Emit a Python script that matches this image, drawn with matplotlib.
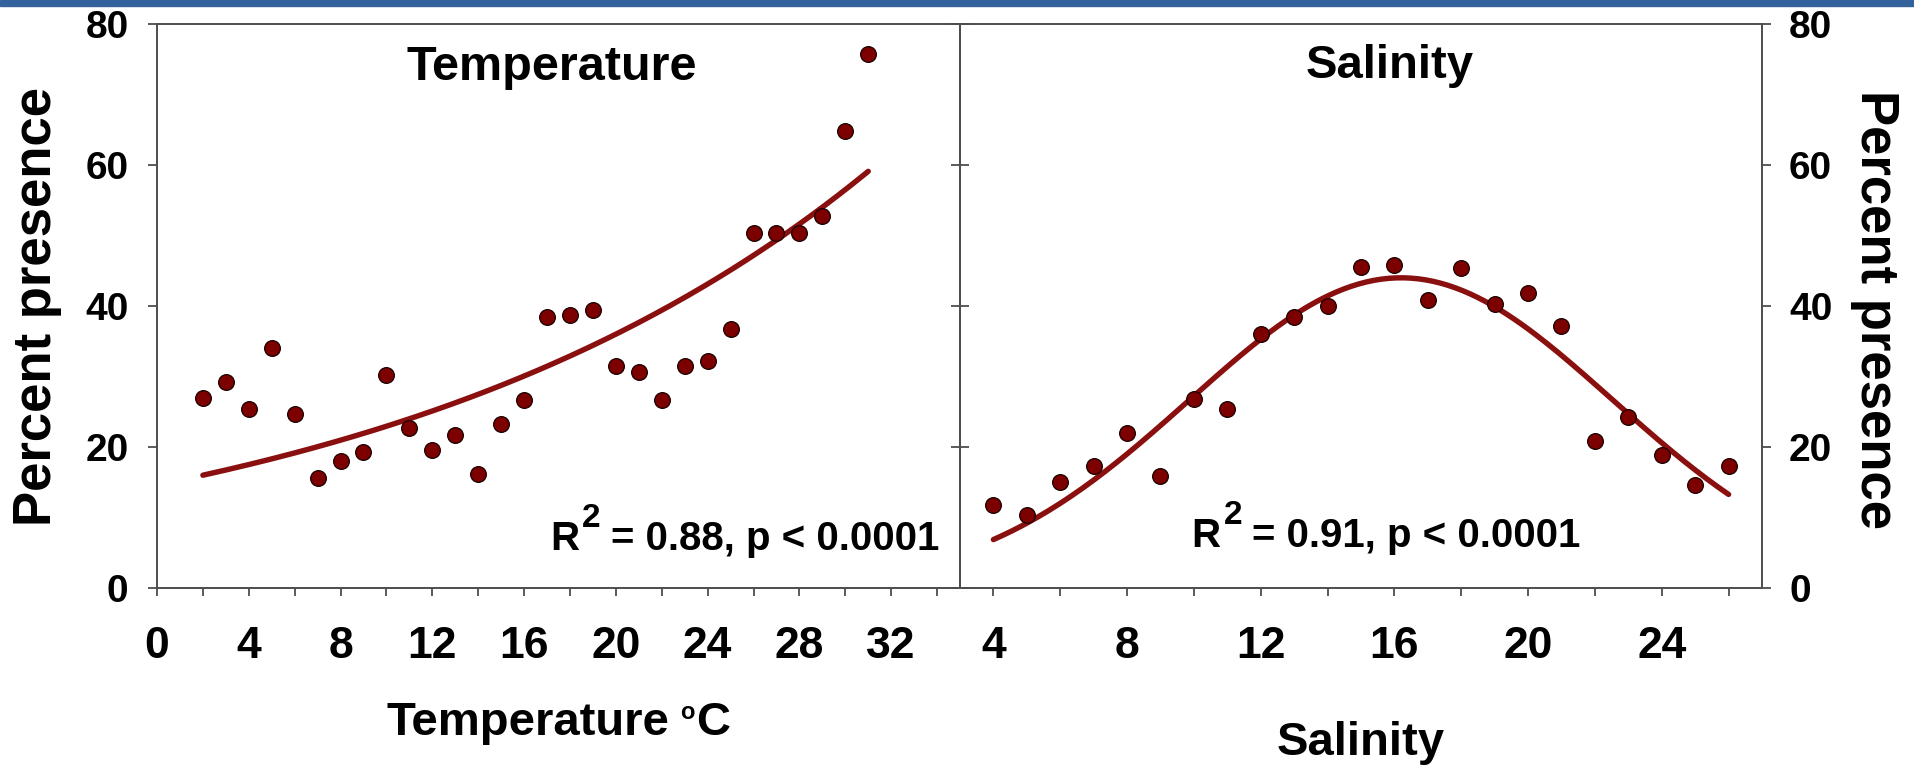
import numpy as np
import matplotlib
matplotlib.use("Agg")
import matplotlib.pyplot as plt
from matplotlib.ticker import MultipleLocator
from matplotlib.patches import Rectangle

# ---------------- data ----------------
temp_x = list(range(2, 32))
temp_y = [27.0, 29.2, 25.4, 34.0, 24.7, 15.6, 18.0, 19.3, 30.2, 22.7,
          19.6, 21.7, 16.1, 23.3, 26.6, 38.4, 38.7, 39.5, 31.5, 30.7,
          26.6, 31.5, 32.2, 36.8, 50.3, 50.3, 50.4, 52.7, 64.8, 75.7]
sal_x = list(range(4, 27))
sal_y = [11.8, 10.35, 15.1, 17.3, 22.0, 15.9, 26.8, 25.4, 36.0, 38.4,
         40.0, 45.6, 45.8, 40.9, 45.4, 40.3, 41.8, 37.1, 20.8, 24.2,
         18.8, 14.6, 17.3]

# fitted curve parameters
temp_fit_a, temp_fit_b = 14.62, 0.04506               # y = a*exp(b*x)
sal_fit_a, sal_fit_mu, sal_fit_sd = 44.0, 16.2, 6.33  # gaussian

temp_r2, sal_r2 = "0.88", "0.91"
p_text = "p < 0.0001"

# ---------------- style ----------------
plt.rcParams['font.family'] = ['Liberation Sans', 'DejaVu Sans']
plt.rcParams['font.weight'] = 'bold'

W, H = 1915, 766
fig = plt.figure(figsize=(W / 100, H / 100), dpi=100)
fig.patch.set_facecolor('white')

ax1 = fig.add_axes([157 / W, 1 - 588 / H, 803 / W, 564 / H])
ax2 = fig.add_axes([960 / W, 1 - 588 / H, 802 / W, 564 / H])
ax2.set_facecolor('none')

spine_col = '#4d4d4d'
mark_col = '#7d0000'
line_col = '#8a0f0f'

for ax in (ax1, ax2):
    for s in ax.spines.values():
        s.set_color(spine_col)
        s.set_linewidth(1.4)
    ax.set_ylim(0, 80)
    ax.yaxis.set_major_locator(MultipleLocator(20))
    ax.tick_params(axis='x', which='both', direction='out', length=5.5,
                   width=1.3, color=spine_col, labelsize=32, pad=22)
    ax.tick_params(axis='y', which='both', direction='out', length=6.5,
                   width=1.3, color=spine_col, labelsize=28)

ax1.set_xlim(0, 35)
ax1.xaxis.set_major_locator(MultipleLocator(4))
ax1.xaxis.set_minor_locator(MultipleLocator(2))
ax2.set_xlim(3, 27)
ax2.set_xticks([4, 8, 12, 16, 20, 24])
ax2.set_xticks([6, 10, 14, 18, 22, 26], minor=True)

ax1.tick_params(axis='y', left=True, right=True, labelleft=True,
                labelright=False, pad=14)
ax2.tick_params(axis='y', left=True, right=True, labelleft=False,
                labelright=True, pad=13)

# ---------------- data drawing ----------------
xt = np.linspace(min(temp_x), max(temp_x), 200)
ax1.plot(xt, temp_fit_a * np.exp(temp_fit_b * xt), color=line_col,
         lw=3.9, zorder=2, solid_capstyle='round')
ax1.scatter(temp_x, temp_y, s=128, color=mark_col, edgecolor='#1a0000',
            linewidth=0.9, zorder=3)

xs = np.linspace(min(sal_x), max(sal_x), 200)
ax2.plot(xs, sal_fit_a * np.exp(-0.5 * ((xs - sal_fit_mu) / sal_fit_sd) ** 2),
         color=line_col, lw=3.9, zorder=2, solid_capstyle='round')
ax2.scatter(sal_x, sal_y, s=128, color=mark_col, edgecolor='#1a0000',
            linewidth=0.9, zorder=3)

# ---------------- texts ----------------
ax1.text(17.2, 72.0, "Temperature", ha='center', va='baseline',
         fontsize=35, fontweight='bold')
ax2.text(15.85, 72.3, "Salinity", ha='center', va='baseline',
         fontsize=34, fontweight='bold')

renderer = fig.canvas.get_renderer()


def text_width(s, fs):
    t = fig.text(0, 0, s, fontsize=fs, fontweight='bold')
    w = t.get_window_extent(renderer).width
    t.remove()
    return w


def draw_pieces(x_px, y_px, pieces, ha):
    """pieces: (text, fontsize, rise_px, gap_before_px); y_px baseline from bottom"""
    widths = [text_width(s, fs) for s, fs, r, g in pieces]
    total = sum(widths) + sum(g for s, fs, r, g in pieces)
    cur = x_px - total if ha == 'right' else x_px - total / 2
    for (s, fs, r, g), w in zip(pieces, widths):
        cur += g
        fig.text(cur / W, (y_px + r) / H, s, fontsize=fs, fontweight='bold',
                 ha='left', va='baseline')
        cur += w


# R^2 statements (anchored in data coordinates)
x1, y1 = ax1.transData.transform((34.1, 5.4))
draw_pieces(x1, y1, [("R", 29, 0, 0), ("2", 24, 23, 3),
                     ("= " + temp_r2 + ", " + p_text, 29, 0, 10)], 'right')
x2, y2 = ax2.transData.transform((15.75, 5.8))
draw_pieces(x2, y2, [("R", 29, 0, 0), ("2", 24, 23, 3),
                     ("= " + sal_r2 + ", " + p_text, 29, 0, 10)], 'center')

# x-axis titles
xa, _ = ax1.transAxes.transform((0.5, 0))
draw_pieces(xa, H - 735, [("Temperature", 34, 0, 0), ("o", 17, 16, 11),
                          ("C", 34, 0, 2)], 'center')
ax2.text(0.5, (588 - 755) / 564, "Salinity",
         transform=ax2.transAxes, ha='center', va='baseline',
         fontsize=34, fontweight='bold')

fig.text(37 / W, 1 - 306 / H, "Percent presence", rotation=90,
         ha='center', va='center', fontsize=38, fontweight='bold')
fig.text(1875 / W, 1 - 310 / H, "Percent presence", rotation=-90,
         ha='center', va='center', fontsize=38, fontweight='bold')

# top blue band
fig.add_artist(Rectangle((0, 1 - 6 / H), 1, 6 / H, transform=fig.transFigure,
                         color='#34629c', zorder=10))

fig.savefig("out.png", dpi=100)
